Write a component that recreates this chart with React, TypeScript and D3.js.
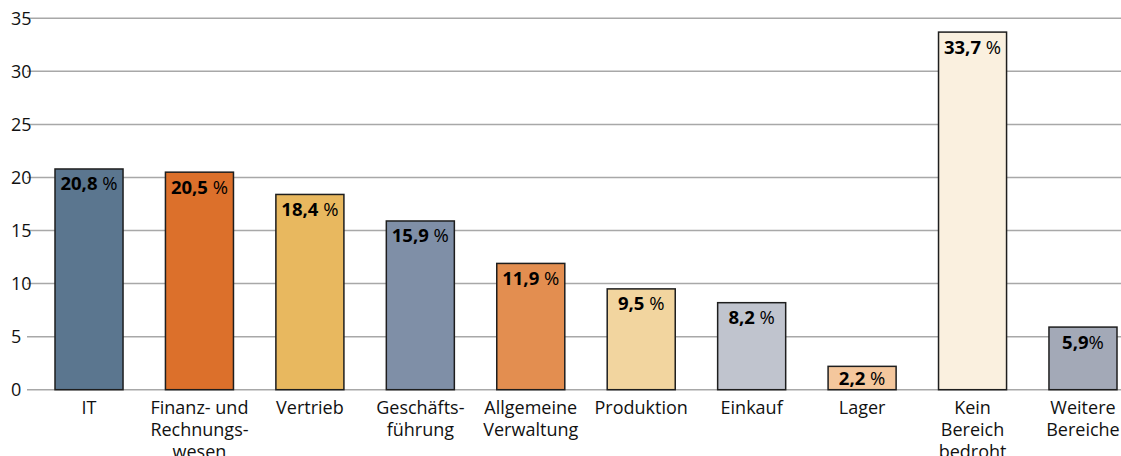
import React from 'react';
import * as d3 from 'd3';

const categories: string[][] = [
  ['IT'],
  ['Finanz- und', 'Rechnungs-', 'wesen'],
  ['Vertrieb'],
  ['Geschäfts-', 'führung'],
  ['Allgemeine', 'Verwaltung'],
  ['Produktion'],
  ['Einkauf'],
  ['Lager'],
  ['Kein', 'Bereich', 'bedroht'],
  ['Weitere', 'Bereiche'],
];
const values: number[] = [20.8, 20.5, 18.4, 15.9, 11.9, 9.5, 8.2, 2.2, 33.7, 5.9];
const valueLabels: string[] = ['20,8', '20,5', '18,4', '15,9', '11,9', '9,5', '8,2', '2,2', '33,7', '5,9'];
const percentLabels: string[] = [' %', ' %', ' %', ' %', ' %', ' %', ' %', ' %', ' %', '%'];
const barColors: string[] = [
  '#5b768f', '#dc702b', '#e8b85f', '#7f8fa7', '#e38e50',
  '#f2d59f', '#c0c4ce', '#f4c79d', '#faf0df', '#a3a9b7',
];
const yTicks: number[] = [0, 5, 10, 15, 20, 25, 30, 35];

const W = 1121;
const H = 456;
const FONT = '"Open Sans", "Noto Sans", sans-serif';

const App: React.FC = () => {
  const idx = values.map((_, i) => String(i));
  const x = d3.scaleBand<string>().domain(idx).range([55, 1117]).paddingInner(0.384).paddingOuter(0);
  const y = d3.scaleLinear().domain([0, 35]).range([389.7, 18.3]);

  return (
    <svg
      width={W}
      height={H}
      style={{ position: 'absolute', left: 0, top: 0, background: '#fff' }}
      fontFamily={FONT}
    >
      {/* grid + y labels */}
      {yTicks.map((t) => (
        <g key={t}>
          <line x1={27} x2={W} y1={y(t)} y2={y(t)} stroke="#a8a8a8" strokeWidth={1.5} />
          <text x={11} y={y(t) + 6.5} fontSize={18} fill="#111">
            {t}
          </text>
        </g>
      ))}

      {/* bars */}
      {values.map((v, i) => {
        const bx = x(String(i))!;
        const bw = x.bandwidth();
        const top = y(v);
        const h = y(0) - top;
        const cx = bx + bw / 2;
        const ty = h < 40 ? top + h / 2 + 7 : top + 21.5;
        return (
          <g key={i}>
            <rect x={bx} y={top} width={bw} height={h} fill={barColors[i]} stroke="#1e1e1e" strokeWidth={1.5} />
            <text x={cx} y={ty} textAnchor="middle" fontSize={18.5} fill="#000">
              <tspan fontWeight="bold">{valueLabels[i]}</tspan>
              <tspan>{percentLabels[i]}</tspan>
            </text>
          </g>
        );
      })}

      {/* category labels */}
      {categories.map((lines, i) => {
        const cx = x(String(i))! + x.bandwidth() / 2;
        return (
          <text key={i} x={cx} textAnchor="middle" fontSize={18} fill="#111">
            {lines.map((l, j) => (
              <tspan key={j} x={cx} y={414 + j * 22}>
                {l}
              </tspan>
            ))}
          </text>
        );
      })}
    </svg>
  );
};

export default App;
